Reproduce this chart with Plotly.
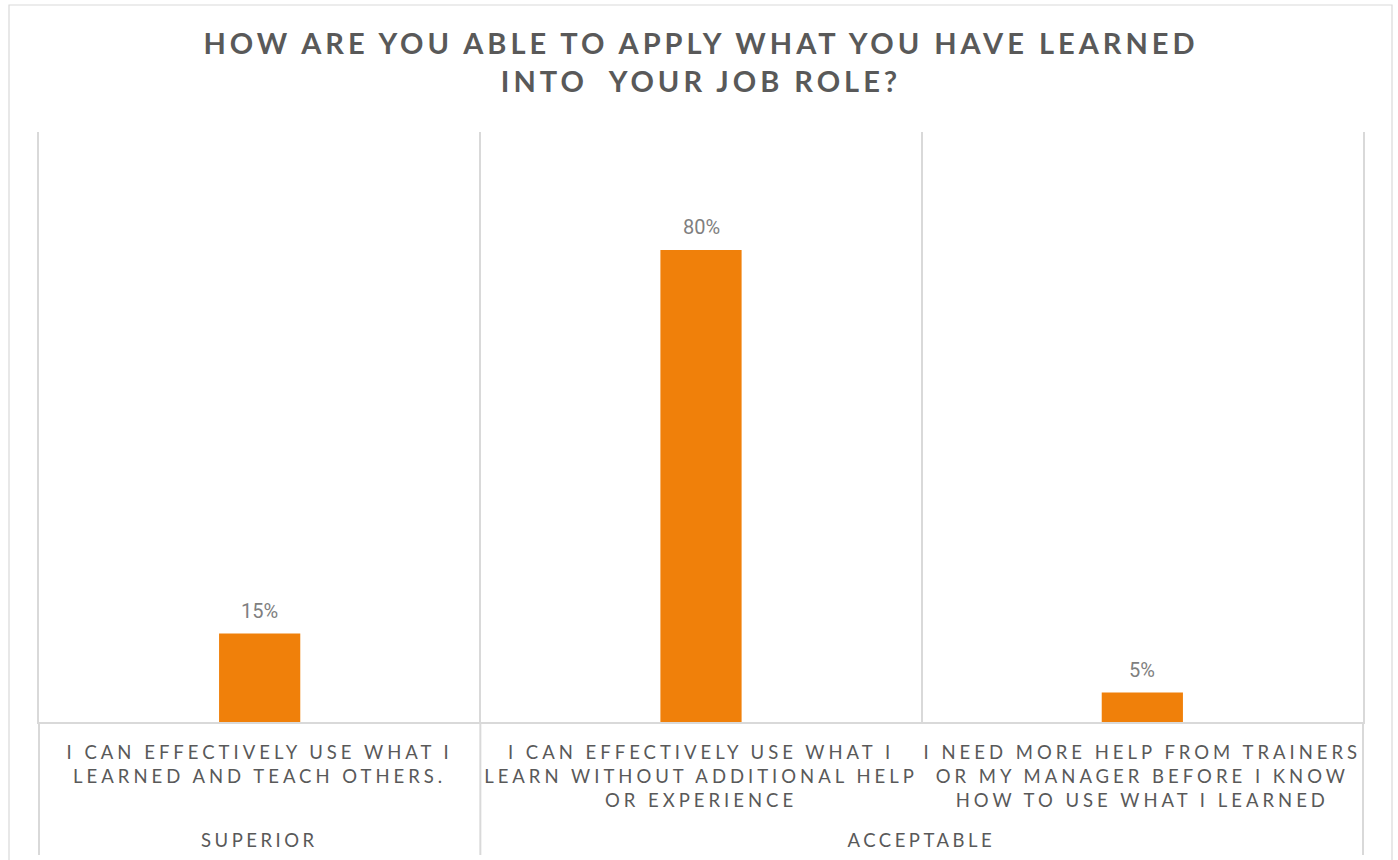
import plotly.graph_objects as go

# Survey answers: group, wording (one entry per printed line) and share of responses
groups = ["SUPERIOR", "ACCEPTABLE", "ACCEPTABLE"]
answer_lines = [
    ["I CAN EFFECTIVELY USE WHAT I", "LEARNED AND TEACH OTHERS."],
    ["I CAN EFFECTIVELY USE WHAT I", "LEARN WITHOUT ADDITIONAL HELP", "OR EXPERIENCE"],
    ["I NEED MORE HELP FROM TRAINERS", "OR MY MANAGER BEFORE I KNOW", "HOW TO USE WHAT I LEARNED"],
]
shares = [0.15, 0.80, 0.05]

title_lines = ["HOW ARE YOU ABLE TO APPLY WHAT YOU HAVE LEARNED", "INTO\u00a0 YOUR JOB ROLE?"]

categories = ["<br>".join(lines) for lines in answer_lines]

W, H = 1398, 860
M_L, M_R, M_T, M_B = 39, 35, 132, 138
plot_w = W - M_L - M_R
plot_h = H - M_T - M_B

ORANGE = "#F0800A"
GRID = "#D9D9D9"
TEXT = "#595959"
LABEL = "#7F7F7F"

fig = go.Figure(
    go.Bar(
        x=categories,
        y=shares,
        marker=dict(color=ORANGE, line=dict(width=0)),
        hoverinfo="skip",
    )
)

# Value labels above each bar
annotations = []
for i, v in enumerate(shares):
    annotations.append(dict(
        x=i, y=v, xref="x", yref="y",
        text=f"{v:.0%}", showarrow=False,
        yanchor="bottom", yshift=9,
        font=dict(family="Roboto", size=20, color=LABEL),
    ))

# Group labels centred under their categories, and divider lines at group edges
n = len(groups)
boundaries = []
group_order = []
for i, g in enumerate(groups):
    if i == 0 or groups[i - 1] != g:
        group_order.append([g, i, i])
        boundaries.append(i - 0.5)
    else:
        group_order[-1][2] = i
boundaries.append(n - 0.5)

label_y = -(840 - (H - M_B)) / plot_h
for g, first, last in group_order:
    annotations.append(dict(
        x=(first + last) / 2, y=label_y, xref="x", yref="paper",
        text=g, showarrow=False, yanchor="middle",
        font=dict(family="Lato", size=18.5, color=TEXT),
    ))

shapes = []
div_bottom = -(855 - (H - M_B)) / plot_h
for b in boundaries:
    xf = (b + 0.5) / n
    shapes.append(dict(
        type="line", xref="x domain", yref="paper",
        x0=xf, x1=xf, y0=0, y1=div_bottom,
        line=dict(color=GRID, width=2), layer="below",
    ))

# Chart frame
fx0, fx1, fy1 = 9, 1392, 5
shapes.append(dict(
    type="rect", xref="paper", yref="paper",
    x0=(fx0 - M_L) / plot_w, x1=(fx1 - M_L) / plot_w,
    y0=-(H + 20 - (H - M_B)) / plot_h, y1=((H - M_B) - fy1) / plot_h,
    line=dict(color=GRID, width=1.2), fillcolor="rgba(0,0,0,0)", layer="below",
))

fig.update_layout(
    width=W, height=H,
    margin=dict(l=M_L, r=M_R, t=M_T, b=M_B),
    paper_bgcolor="white", plot_bgcolor="white",
    showlegend=False,
    bargap=0.816,
    title=dict(
        text="<br>".join(title_lines),
        x=0.5, xanchor="center", xref="paper",
        y=0.9368, yanchor="top", yref="container",
        font=dict(family="Lato", size=29, color=TEXT, weight="bold"),
    ),
    xaxis=dict(
        type="category", range=[-0.5, n - 0.5],
        tickson="boundaries", ticks="", tickangle=0,
        showgrid=True, gridcolor=GRID, gridwidth=2,
        showline=True, linecolor=GRID, linewidth=2,
        tickfont=dict(family="Lato", size=18.5, color=TEXT),
        ticklabelstandoff=13,
        fixedrange=True,
    ),
    yaxis=dict(
        range=[0, 1], showticklabels=False, ticks="",
        showgrid=False, zeroline=False,
        showline=True, mirror=True, linecolor=GRID, linewidth=2,
        fixedrange=True,
    ),
    annotations=annotations,
    shapes=shapes,
)

# Wide tracking on the headline and axis captions
letter_css = (
    ".gtitle{letter-spacing:4px}"
    ".xtick text{letter-spacing:4px}"
    ".annotation[data-index='3'] text,.annotation[data-index='4'] text{letter-spacing:3.5px}"
)
post = (
    "var s=document.createElement('style');"
    f"s.textContent=\"{letter_css}\";"
    "document.head.appendChild(s);"
)

fig.write_html("out.html", post_script=post, config={"displayModeBar": False})
